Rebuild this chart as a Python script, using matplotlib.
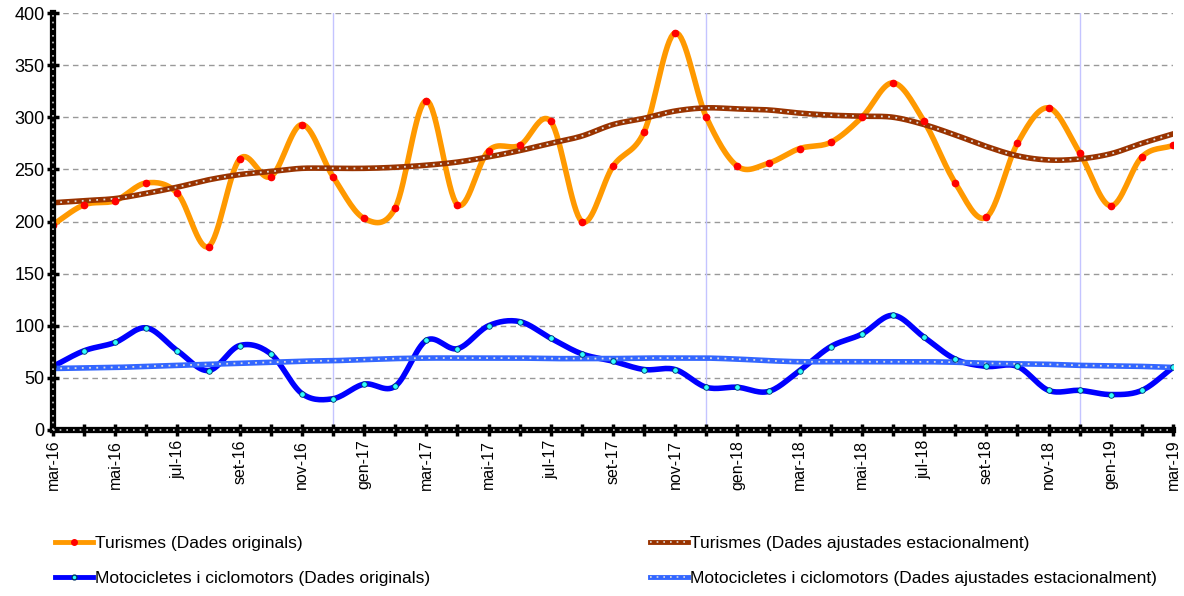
import numpy as np
import matplotlib.pyplot as plt
from matplotlib.legend_handler import HandlerTuple
from matplotlib.lines import Line2D

plt.rcParams['font.family'] = ['Liberation Sans', 'DejaVu Sans']

# Mesos (mar-16 ... mar-19)
mesos = ['gen', 'feb', 'mar', 'abr', 'mai', 'jun', 'jul', 'ago', 'set', 'oct', 'nov', 'des']
periodes = [f"{mesos[(2 + i) % 12]}-{16 + (2 + i) // 12}" for i in range(37)]

turismes_orig = [197, 216, 220, 237, 227, 176, 260, 243, 293, 243, 203, 213,
                 316, 216, 268, 273, 296, 200, 253, 286, 381, 300, 253, 256,
                 270, 276, 300, 333, 296, 237, 204, 275, 309, 266, 215, 262, 273]
turismes_ajust = [218, 220, 222, 227, 233, 240, 245, 248, 251, 251, 251, 252,
                  254, 257, 262, 268, 275, 282, 293, 299, 306, 309, 308, 307,
                  304, 302, 301, 300, 293, 283, 272, 263, 259, 260, 265, 275, 284]
motos_orig = [61, 76, 84, 98, 76, 57, 81, 73, 35, 30, 44, 42,
              86, 78, 100, 104, 88, 73, 66, 58, 58, 41, 41, 37,
              57, 80, 92, 110, 89, 68, 61, 61, 38, 38, 34, 38, 60]
motos_ajust = [59, 59.5, 60, 61, 62, 63, 64, 65, 66, 66.5, 67.5, 68.5,
               69, 69, 69, 69, 68.5, 68.5, 68.5, 69, 69, 69, 68, 66.5,
               65.5, 65.5, 65.5, 65.5, 65.5, 65, 64, 63.5, 63, 62, 61.5, 61, 60]


def suavitza(y, n=16):
    # corba Catmull-Rom, com el suavitzat de l'Excel
    p = np.array(y, float)
    pad = np.concatenate([[2 * p[0] - p[1]], p, [2 * p[-1] - p[-2]]])
    t = np.linspace(0, 1, n, endpoint=False)
    xs, ys = [], []
    for i in range(len(p) - 1):
        p0, p1, p2, p3 = pad[i:i + 4]
        ys.append(0.5 * (2 * p1 + (-p0 + p2) * t + (2 * p0 - 5 * p1 + 4 * p2 - p3) * t ** 2
                         + (-p0 + 3 * p1 - 3 * p2 + p3) * t ** 3))
        xs.append(i + t)
    xs.append([len(p) - 1])
    ys.append([p[-1]])
    return np.concatenate(xs), np.concatenate(ys)


x = np.arange(len(periodes))

fig = plt.figure(figsize=(11.84, 5.96), dpi=100)
ax = fig.add_axes([53 / 1184, 1 - 430 / 596, 1120 / 1184, 417 / 596])

# graella
for v in range(50, 401, 50):
    ax.axhline(v, color='#999999', lw=1, ls=(0, (4, 3)), zorder=1)
for i, p in enumerate(periodes):
    if p.startswith('des'):
        ax.axvline(i, color='#c4c4ff', lw=1, zorder=1)

# Turismes
xs, ys = suavitza(turismes_orig)
ax.plot(xs, ys, color='#ff9900', lw=4, zorder=3, solid_capstyle='round')
ax.plot(x, turismes_orig, 'o', color='red', ms=4.5, zorder=4)
xs, ys = suavitza(turismes_ajust)
ax.plot(xs, ys, color='#993300', lw=4, zorder=3)
ax.plot(xs, ys, color='#dddddd', lw=1.3, ls=(0, (1, 3)), zorder=3)

# Motocicletes
xs, ys = suavitza(motos_orig)
ax.plot(xs, ys, color='#0000ff', lw=4, zorder=3, solid_capstyle='round')
ax.plot(x, motos_orig, 'o', color='#33ffff', mec='#003366', mew=0.6, ms=4, zorder=4)
xs, ys = suavitza(motos_ajust)
ax.plot(xs, ys, color='#3366ff', lw=4, zorder=3)
ax.plot(xs, ys, color='#dddddd', lw=1.3, ls=(0, (1, 3)), zorder=3)

ax.set_xlim(0, 36)
ax.set_ylim(0, 400)

ax.spines['top'].set_visible(False)
ax.spines['right'].set_visible(False)
for s in ['left', 'bottom']:
    ax.spines[s].set_linewidth(4.5)
    ax.spines[s].set_zorder(5)
ax.plot([0, 0], [0, 1], color='#cccccc', lw=1.2, ls=(0, (1, 3)), transform=ax.transAxes,
        clip_on=False, zorder=6)
ax.plot([0, 1], [0, 0], color='#cccccc', lw=1.2, ls=(0, (1, 3)), transform=ax.transAxes,
        clip_on=False, zorder=6)

ax.set_yticks(range(0, 401, 50))
ax.set_xticks(x[::2])
ax.set_xticklabels(periodes[::2], rotation=90)
ax.set_xticks(x, minor=True)
ax.tick_params(axis='both', which='both', direction='inout', length=8, width=2.5,
               color='black', labelsize=13)
ax.tick_params(axis='y', pad=2)
ax.tick_params(axis='x', labelsize=11.5, pad=3)

h1 = Line2D([], [], color='#ff9900', lw=3.5, marker='o', mfc='red', mec='red', ms=4)
h2 = Line2D([], [], color='#0000ff', lw=3.5, marker='o', mfc='#33ffff', mec='#003366', ms=3.5)
h3 = (Line2D([], [], color='#993300', lw=3.5), Line2D([], [], color='#dddddd', lw=1.2, ls=(0, (1, 3))))
h4 = (Line2D([], [], color='#3366ff', lw=3.5), Line2D([], [], color='#dddddd', lw=1.2, ls=(0, (1, 3))))

opts = dict(loc='center left', frameon=False, fontsize=12.5, handlelength=2.2,
            handletextpad=0.1, labelspacing=1.15, borderpad=0, borderaxespad=0,
            handler_map={tuple: HandlerTuple(ndivide=1)})
fig.legend([h1, h2], ['Turismes (Dades originals)', 'Motocicletes i ciclomotors (Dades originals)'],
           bbox_to_anchor=(55 / 1184, 1 - 561 / 596), **opts)
fig.legend([h3, h4], ['Turismes (Dades ajustades estacionalment)',
                      'Motocicletes i ciclomotors (Dades ajustades estacionalment)'],
           bbox_to_anchor=(650 / 1184, 1 - 561 / 596), **opts)

fig.savefig('out.png', dpi=100)
